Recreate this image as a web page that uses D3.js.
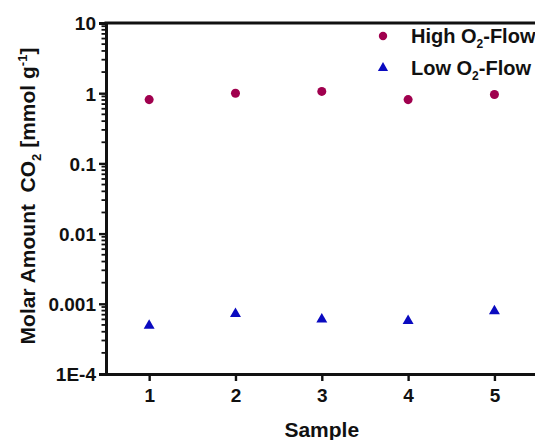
<!DOCTYPE html>
<html>
<head>
<meta charset="utf-8">
<script src="https://cdn.jsdelivr.net/npm/d3@7"></script>
<style>
  body { margin: 0; background: #fff; }
  text { font-family: "Liberation Sans", Arial, sans-serif; font-weight: bold; fill: #111; white-space: pre; }
</style>
</head>
<body>
<div id="chart"></div>
<script>
const samples = [1, 2, 3, 4, 5];
const highFlow = [0.81, 1.0, 1.06, 0.81, 0.96];
const lowFlow = [0.00049, 0.00072, 0.0006, 0.00057, 0.00079];
const yTicks = [1e-4, 1e-3, 1e-2, 1e-1, 1, 10];
const yTickLabels = ["1E-4", "0.001", "0.01", "0.1", "1", "10"];

const width = 535, height = 440;
const margin = { top: 23, right: 0, bottom: 66, left: 106 };

const svg = d3.select("#chart").append("svg")
  .attr("width", width)
  .attr("height", height);

const x = d3.scaleLinear()
  .domain([0.5, 5.47])
  .range([margin.left, width - margin.right]);

const y = d3.scaleLog()
  .domain([1e-4, 10])
  .range([height - margin.bottom, margin.top]);

// minor ticks on the log axis
const minor = [];
for (let e = -4; e < 1; e++) {
  for (let m = 2; m < 10; m++) minor.push(m * Math.pow(10, e));
}
svg.append("g")
  .selectAll("line")
  .data(minor)
  .join("line")
  .attr("x1", margin.left - 4.5)
  .attr("x2", margin.left)
  .attr("y1", (d) => y(d))
  .attr("y2", (d) => y(d))
  .style("stroke", "#111")
  .style("stroke-width", 1.8);

const yAxis = svg.append("g")
  .attr("transform", `translate(${margin.left},0)`)
  .call(d3.axisLeft(y).tickValues(yTicks)
    .tickFormat((d, i) => yTickLabels[i])
    .tickSize(7).tickPadding(3));
yAxis.select(".domain").style("stroke-width", 3).style("stroke", "#111");
yAxis.selectAll(".tick line").style("stroke-width", 2.4).style("stroke", "#111");
yAxis.selectAll(".tick text").style("font-size", "19px").attr("dy", "0.36em");

const xAxis = svg.append("g")
  .attr("transform", `translate(0,${height - margin.bottom})`)
  .call(d3.axisBottom(x).tickValues(samples).tickFormat(d3.format("d"))
    .tickSize(7).tickSizeOuter(0).tickPadding(8));
xAxis.select(".domain").style("stroke-width", 3).style("stroke", "#111");
xAxis.selectAll(".tick line").style("stroke-width", 2.4).style("stroke", "#111");
xAxis.selectAll(".tick text").style("font-size", "19px");

// top frame line
svg.append("line")
  .attr("x1", margin.left - 1.5)
  .attr("x2", width)
  .attr("y1", y(10))
  .attr("y2", y(10))
  .style("stroke", "#111")
  .style("stroke-width", 3);

const highColor = "#a0004e";
const lowColor = "#0a0ac0";

svg.append("g")
  .selectAll("path")
  .data(samples)
  .join("path")
  .attr("transform", (d, i) => `translate(${x(d)},${y(highFlow[i])})`)
  .attr("d", d3.symbol(d3.symbolCircle, 64))
  .attr("fill", highColor);

svg.append("g")
  .selectAll("path")
  .data(samples)
  .join("path")
  .attr("transform", (d, i) => `translate(${x(d)},${y(lowFlow[i])})`)
  .attr("d", d3.symbol(d3.symbolTriangle, 52))
  .attr("fill", lowColor);

// legend
const legend = [
  { name: "High", color: highColor, sym: d3.symbolCircle, size: 55 },
  { name: "Low", color: lowColor, sym: d3.symbolTriangle, size: 45 }
];
const lg = svg.append("g").attr("transform", "translate(383,36)");
legend.forEach((l, i) => {
  lg.append("path")
    .attr("transform", `translate(0,${i * 32})`)
    .attr("d", d3.symbol(l.sym, l.size))
    .attr("fill", l.color);
  const t = lg.append("text")
    .attr("x", 28)
    .attr("y", i * 32 + 7)
    .style("font-size", "20px");
  t.append("tspan").text(l.name + " O");
  t.append("tspan").text("2").style("font-size", "12px").attr("dy", 5);
  t.append("tspan").text("-Flow").attr("dy", -5);
});

// axis titles
svg.append("text")
  .attr("x", x(3))
  .attr("y", 437)
  .attr("text-anchor", "middle")
  .style("font-size", "21px")
  .text("Sample");

const yt = svg.append("text")
  .attr("transform", `translate(35,${196}) rotate(-90)`)
  .attr("text-anchor", "middle")
  .style("font-size", "21px");
yt.append("tspan").text("Molar Amount  CO");
yt.append("tspan").text("2").style("font-size", "13px").attr("dy", 6);
yt.append("tspan").text(" [mmol g").attr("dy", -6);
yt.append("tspan").text("-1").style("font-size", "13px").attr("dy", -8);
yt.append("tspan").text("]").attr("dy", 8);
</script>
</body>
</html>
